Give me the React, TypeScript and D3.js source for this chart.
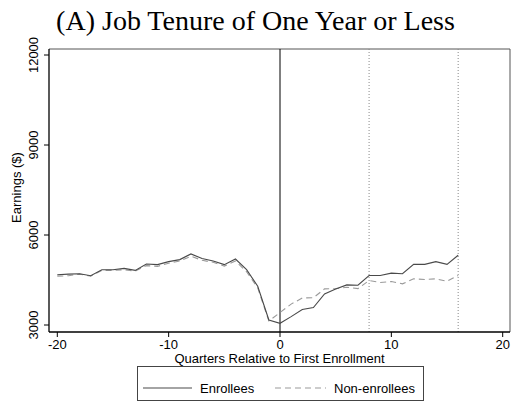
import React from "react";
import * as d3 from "d3";

const quarters = d3.range(-20, 17);
const enrollees = [
  4675, 4695, 4708, 4641, 4843, 4843, 4887, 4820, 5032, 5012, 5113, 5180, 5369, 5214, 5133, 5012, 5200, 4843, 4291, 3168,
  3057, 3280, 3516, 3583, 4035, 4203, 4338, 4325, 4651, 4651, 4729, 4708, 5022, 5022, 5113, 5022, 5325,
];
const nonEnrollees = [
  4628, 4641, 4695, 4628, 4820, 4820, 4843, 4797, 4978, 4955, 5056, 5133, 5292, 5157, 5089, 4965, 5133, 4775, 4237, 3135,
  3415, 3697, 3900, 3910, 4203, 4213, 4257, 4213, 4483, 4415, 4449, 4372, 4540, 4517, 4540, 4459, 4651,
];
const xTicks = [-20, -10, 0, 10, 20];
const yTicks = [3000, 6000, 9000, 12000];
const refLines = [8, 16];
const title = "(A) Job Tenure of One Year or Less";
const xTitle = "Quarters Relative to First Enrollment";
const yTitle = "Earnings ($)";
const legendLabels = ["Enrollees", "Non-enrollees"];

export default function App() {
  const W = 511,
    H = 402;
  const frame = { left: 49, right: 510, top: 49, bottom: 332 };
  const x = d3.scaleLinear().domain([-20, 20]).range([57.3, 502.7]);
  const y = d3.scaleLinear().domain([3000, 12000]).range([325, 55]);
  const line = d3
    .line<number>()
    .x((_, i) => x(quarters[i]))
    .y((d) => y(d));
  const sans = "'Liberation Sans', Arial, sans-serif";
  const fs = 13;
  const midX = (frame.left + frame.right) / 2;
  const midY = (frame.top + frame.bottom) / 2;
  return (
    <svg width={W} height={H} style={{ position: "absolute", left: 0, top: 0 }} viewBox={`0 0 ${W} ${H}`}>
      <rect x={0} y={0} width={W} height={H} fill="#fff" />
      <text x={255.5} y={30} textAnchor="middle" fontFamily="'Liberation Serif', 'Times New Roman', serif" fontSize={28} fill="#000">
        {title}
      </text>
      {/* frame */}
      <line x1={frame.left} x2={frame.right} y1={frame.top} y2={frame.top} stroke="#555" strokeWidth={1} />
      <line x1={frame.right} x2={frame.right} y1={frame.top} y2={frame.bottom} stroke="#555" strokeWidth={1} />
      {/* reference lines */}
      <line x1={x(0)} x2={x(0)} y1={frame.top} y2={frame.bottom} stroke="#000" strokeWidth={1} />
      {refLines.map((r) => (
        <line key={r} x1={x(r)} x2={x(r)} y1={frame.top} y2={frame.bottom} stroke="#888" strokeWidth={1} strokeDasharray="1,2" />
      ))}
      {/* series */}
      <path d={line(nonEnrollees) || ""} fill="none" stroke="#9a9a9a" strokeWidth={1.1} strokeDasharray="6,4" />
      <path d={line(enrollees) || ""} fill="none" stroke="#4a4a4a" strokeWidth={1.1} />
      {/* axes */}
      <line x1={frame.left} x2={frame.left} y1={frame.top} y2={frame.bottom} stroke="#000" strokeWidth={1.3} />
      <line x1={frame.left} x2={frame.right} y1={frame.bottom} y2={frame.bottom} stroke="#000" strokeWidth={1.3} />
      {yTicks.map((t) => (
        <g key={t}>
          <line x1={frame.left - 5} x2={frame.left} y1={y(t)} y2={y(t)} stroke="#000" strokeWidth={1} />
          <text
            transform={`translate(${38},${y(t)}) rotate(-90)`}
            textAnchor="middle"
            fontFamily={sans}
            fontSize={fs}
            fill="#000"
          >
            {t}
          </text>
        </g>
      ))}
      {xTicks.map((t) => (
        <g key={t}>
          <line x1={x(t)} x2={x(t)} y1={frame.bottom} y2={frame.bottom + 5} stroke="#000" strokeWidth={1} />
          <text x={x(t)} y={348.5} textAnchor="middle" fontFamily={sans} fontSize={fs} fill="#000">
            {t}
          </text>
        </g>
      ))}
      <text x={midX} y={363.2} textAnchor="middle" fontFamily={sans} fontSize={fs} fill="#000">
        {xTitle}
      </text>
      <text transform={`translate(${21},${midY - 3}) rotate(-90)`} textAnchor="middle" fontFamily={sans} fontSize={fs} fill="#000">
        {yTitle}
      </text>
      {/* legend */}
      <rect x={137.5} y={366.5} width={286} height={34} fill="#fff" stroke="#444" strokeWidth={1} />
      <line x1={143} x2={192} y1={388} y2={388} stroke="#4a4a4a" strokeWidth={1.1} />
      <text x={200} y={392.5} fontFamily={sans} fontSize={fs} fill="#000">
        {legendLabels[0]}
      </text>
      <line x1={275} x2={326} y1={388} y2={388} stroke="#9a9a9a" strokeWidth={1.1} strokeDasharray="6,4" />
      <text x={334} y={392.5} fontFamily={sans} fontSize={fs} fill="#000">
        {legendLabels[1]}
      </text>
    </svg>
  );
}
